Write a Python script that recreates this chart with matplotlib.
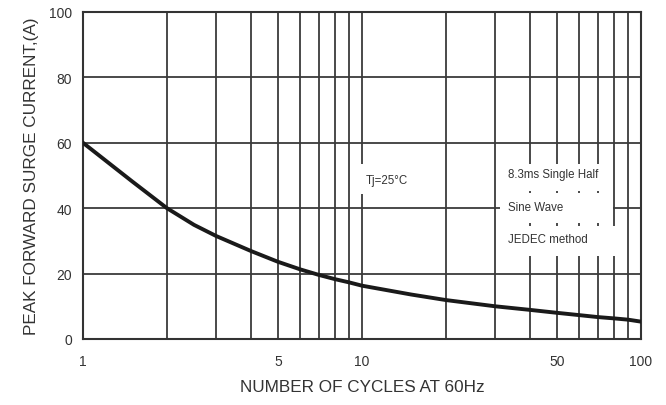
import matplotlib.pyplot as plt
from matplotlib.patches import Rectangle

plt.rcParams['font.family'] = ['Liberation Sans', 'DejaVu Sans']

# surge current curve
cycles = [1, 1.5, 2, 2.5, 3, 4, 5, 6, 7, 8, 9, 10, 15, 20, 30, 40, 50, 60, 70, 80, 90, 100]
current = [60, 48.2, 40, 34.9, 31.5, 26.9, 23.6, 21.3, 19.6, 18.3, 17.3, 16.3, 13.6, 11.9,
           10.0, 8.9, 8.0, 7.3, 6.7, 6.3, 5.9, 5.3]

grid_x = [2, 3, 4, 5, 6, 7, 8, 9, 10, 20, 30, 40, 50, 60, 70, 80, 90]
grid_y = [20, 40, 60, 80]
xticks = [1, 5, 10, 50, 100]
yticks = [0, 20, 40, 60, 80, 100]

fig = plt.figure(figsize=(6.66, 4.06), dpi=100)
ax = fig.add_axes([0.1246, 0.1626, 0.8379, 0.8054])
ax.set_xscale('log')
ax.set_xlim(1, 100)
ax.set_ylim(0, 100)

for gx in grid_x:
    ax.axvline(gx, color='#3a3a3a', lw=1.3, zorder=1)
for gy in grid_y:
    ax.axhline(gy, color='#3a3a3a', lw=1.3, zorder=1)

ax.plot(cycles, current, color='#1a1a1a', lw=2.8, zorder=3)

# white backgrounds behind the notes (axes fractions)
note_boxes = [
    (0.496, 0.443, 0.094, 0.092),
    (0.747, 0.453, 0.203, 0.082),
    (0.747, 0.355, 0.203, 0.091),
    (0.747, 0.254, 0.215, 0.092),
]
for bx, by, bw, bh in note_boxes:
    ax.add_patch(Rectangle((bx, by), bw, bh, transform=ax.transAxes,
                           facecolor='white', edgecolor='none', zorder=2))

note_kw = dict(transform=ax.transAxes, fontsize=8.3, color='#333333',
               va='center', zorder=4)
ax.text(0.507, 0.486, 'Tj=25°C', **note_kw)
ax.text(0.761, 0.505, '8.3ms Single Half', **note_kw)
ax.text(0.761, 0.404, 'Sine Wave', **note_kw)
ax.text(0.761, 0.306, 'JEDEC method', **note_kw)

ax.set_xticks(xticks)
ax.set_xticklabels([str(v) for v in xticks])
ax.xaxis.set_minor_locator(plt.NullLocator())
ax.set_yticks(yticks)
ax.tick_params(length=0, labelsize=10, labelcolor='#333333')
ax.tick_params(axis='x', pad=11)
ax.tick_params(axis='y', pad=8)

for s in ax.spines.values():
    s.set_color('#333333')
    s.set_linewidth(1.5)

ax.set_xlabel('NUMBER OF CYCLES AT 60Hz', fontsize=12.3, color='#333333', labelpad=8)
ax.set_ylabel('PEAK FORWARD SURGE CURRENT,(A)', fontsize=12.3, color='#333333', labelpad=7)

fig.savefig('out.png', dpi=100, facecolor='white')
